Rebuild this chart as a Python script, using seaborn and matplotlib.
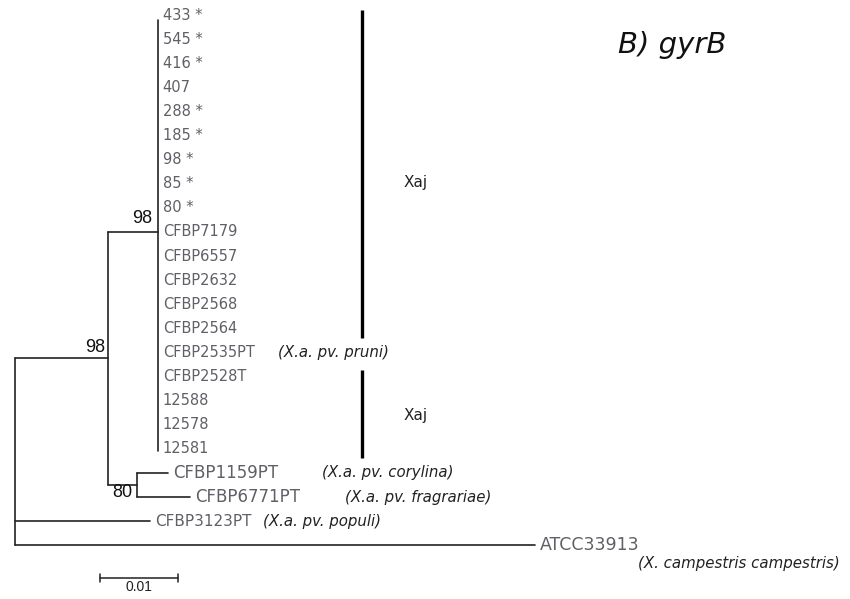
import numpy as np
import pandas as pd
import matplotlib
matplotlib.use("Agg")
import matplotlib.pyplot as plt
import seaborn as sns

sns.set_style("white")
plt.rcParams['font.family'] = ['DejaVu Sans']

# Xaj clade (zero-length tips, comb)
xaj_leaves = ["433", "545", "416", "407", "288", "185", "98", "85", "80",
              "CFBP7179", "CFBP6557", "CFBP2632", "CFBP2568", "CFBP2564",
              "CFBP2535PT", "CFBP2528T", "12588", "12578", "12581"]
xaj_stars = [1, 1, 1, 0, 1, 1, 1, 1, 1, 0, 0, 0, 0, 0, 0, 0, 0, 0, 0]
xaj_notes = {"CFBP2535PT": "(X.a. pv. pruni)"}

# small clade (bootstrap 80)
sub_leaves = ["CFBP1159PT", "CFBP6771PT"]
sub_lengths = [0.0040, 0.0068]
sub_notes = ["(X.a. pv. corylina)", "(X.a. pv. fragrariae)"]

# branches from the root
outer_leaves = ["CFBP3123PT", "ATCC33913"]
outer_lengths = [0.0173, 0.0667]
outer_notes = ["(X.a. pv. populi)", "(X. campestris campestris)"]

# internal branch lengths
root_to_a = 0.0119
a_to_xaj = 0.0064
a_to_sub = 0.0037

# bootstrap values
boot_a, boot_xaj, boot_sub = 98, 98, 80
scale_len = 0.01

# ---- tree geometry ----
n_xaj = len(xaj_leaves)
xaj_rows = np.arange(n_xaj)
sub_rows = n_xaj + np.arange(len(sub_leaves))
outer_rows = sub_rows[-1] + 1 + np.arange(len(outer_leaves))

x_a = root_to_a
x_xaj = x_a + a_to_xaj
x_sub = x_a + a_to_sub
y_xaj = xaj_rows.mean()
y_sub = sub_rows.mean()
y_a = (y_xaj + y_sub) / 2

segs = []
def seg(x0, y0, x1, y1):
    segs.append(((x0, y0), (x1, y1)))

# root vertical + branches
seg(0, y_a, 0, outer_rows[-1])
seg(0, y_a, x_a, y_a)
for r, l in zip(outer_rows, outer_lengths):
    seg(0, r, l, r)
# node A
seg(x_a, y_xaj, x_a, y_sub)
seg(x_a, y_xaj, x_xaj, y_xaj)
seg(x_a, y_sub, x_sub, y_sub)
# Xaj comb
seg(x_xaj, xaj_rows[0] + 0.2, x_xaj, xaj_rows[-1] + 0.1)
# sub clade
seg(x_sub, sub_rows[0], x_sub, sub_rows[-1])
for r, l in zip(sub_rows, sub_lengths):
    seg(x_sub, r, x_sub + l, r)

rows = []
for i, ((x0, y0), (x1, y1)) in enumerate(segs):
    rows.append({"x": x0, "y": y0, "seg": i})
    rows.append({"x": x1, "y": y1, "seg": i})
df = pd.DataFrame(rows)

fig = plt.figure(figsize=(8.5, 5.99), dpi=100)
ax = fig.add_axes([0, 0, 1, 1])
sns.lineplot(data=df, x="x", y="y", units="seg", estimator=None, sort=False,
             color="#222222", lw=1.2, legend=False, ax=ax)

px_x = 7800.0   # pixels per unit of branch length
px_y = 24.1     # pixels per row
def X(px):
    return (px - 15) / px_x
ax.set_xlim(X(0), X(850))
ax.set_ylim((599 - 15) / px_y, -15 / px_y)
ax.axis("off")

leaf_color = "#5f6066"
note_kw = dict(fontsize=10.8, style="italic", color="#222222", va="center", ha="left")
dx = 5 / px_x

def leaf(x, y, name, star=False, size=11):
    return ax.text(x + dx, y, name + (" *" if star else ""), fontsize=size,
                   color=leaf_color, va="center", ha="left")

for r, name, s in zip(xaj_rows, xaj_leaves, xaj_stars):
    leaf(x_xaj, r, name, bool(s), size=10.5)
    if name in xaj_notes:
        ax.text(X(278), r, xaj_notes[name], **note_kw)
note_x = [322, 345]
for r, name, l, note, nx in zip(sub_rows, sub_leaves, sub_lengths, sub_notes, note_x):
    leaf(x_sub + l, r, name, size=12)
    ax.text(X(nx), r, note, **note_kw)
leaf(outer_lengths[0], outer_rows[0], outer_leaves[0], size=11)
ax.text(X(263), outer_rows[0], outer_notes[0], **note_kw)
leaf(outer_lengths[1], outer_rows[1], outer_leaves[1], size=12.5)
ax.text(X(840), outer_rows[1] + 0.75, outer_notes[1], fontsize=10.8,
        style="italic", ha="right", va="center", color="#222222")

# bootstrap values
bfont = dict(fontsize=13, color="#111111", family="Liberation Sans")
ax.text(x_xaj - 5 / px_x, y_xaj - 0.55, str(boot_xaj), ha="right", va="center", **bfont)
ax.text(x_a - 3 / px_x, y_a - 0.45, str(boot_a), ha="right", va="center", **bfont)
ax.text(x_sub - 4 / px_x, y_sub + 0.3, str(boot_sub), ha="right", va="center", **bfont)

# clade bars
bar_x = X(362)
ax.plot([bar_x, bar_x], [-0.2, 13.4], color="black", lw=2.4, solid_capstyle="butt")
ax.plot([bar_x, bar_x], [14.73, 18.38], color="black", lw=2.4, solid_capstyle="butt")
ax.text(X(404), 6.97, "Xaj", fontsize=11, va="center", color="#222222")
ax.text(X(404), 16.6, "Xaj", fontsize=11, va="center", color="#222222")

# title
ax.text(X(618), 1.24, "B) gyrB", fontsize=21, style="italic",
        va="center", ha="left", color="#111111")

# scale bar
sx0 = X(100)
sy = (578 - 15) / px_y
ax.plot([sx0, sx0 + scale_len], [sy, sy], color="#222222", lw=1.1)
for xx in (sx0, sx0 + scale_len):
    ax.plot([xx, xx], [sy - 0.17, sy + 0.17], color="#222222", lw=1.1)
ax.text(sx0 + scale_len / 2, sy + 0.1, "0.01", fontsize=10, ha="center", va="top",
        color="#222222", family="Liberation Sans")

fig.savefig("out.png", dpi=100)
